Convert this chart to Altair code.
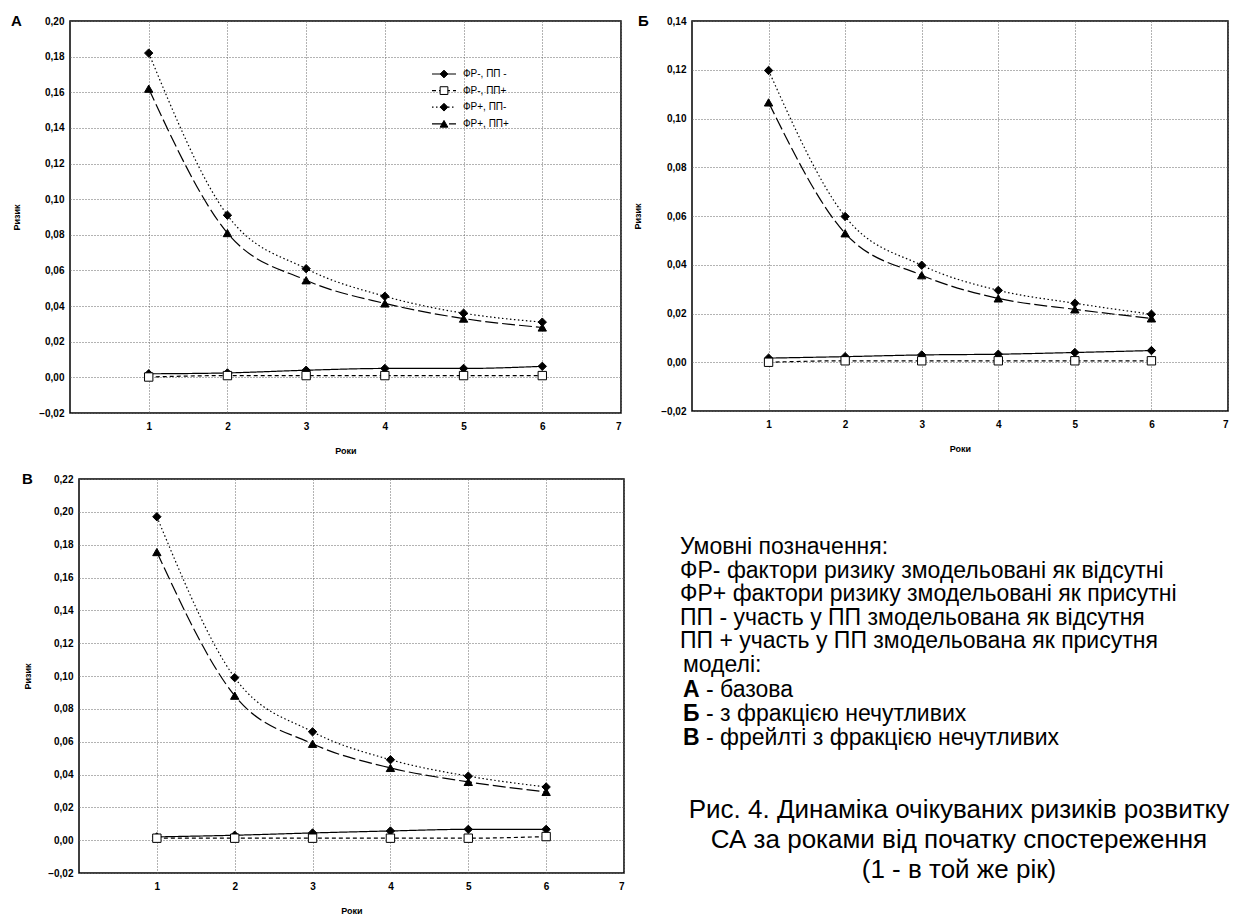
import altair as alt
import pandas as pd

years = [1, 2, 3, 4, 5, 6]
series_order = ["ФР-, ПП -", "ФР-, ПП+", "ФР+, ПП-", "ФР+, ПП+"]

# Panel A (base model)
a_frm_ppm = [0.002, 0.0025, 0.004, 0.005, 0.005, 0.0062]
a_frm_ppp = [0.0002, 0.001, 0.001, 0.001, 0.001, 0.001]
a_frp_ppm = [0.182, 0.091, 0.061, 0.0455, 0.036, 0.031]
a_frp_ppp = [0.162, 0.081, 0.0545, 0.0415, 0.033, 0.028]

# Panel Б (with non-susceptible fraction)
b_frm_ppm = [0.0017, 0.0023, 0.003, 0.0033, 0.004, 0.0048]
b_frm_ppp = [0.0, 0.0006, 0.0006, 0.0006, 0.0006, 0.0006]
b_frp_ppm = [0.1197, 0.0598, 0.0398, 0.0295, 0.0242, 0.0197]
b_frp_ppp = [0.1066, 0.0529, 0.0357, 0.0262, 0.0217, 0.018]

# Panel В (frailty with non-susceptible fraction)
v_frm_ppm = [0.002, 0.003, 0.0044, 0.0056, 0.0066, 0.0066]
v_frm_ppp = [0.0012, 0.0012, 0.0012, 0.0012, 0.0012, 0.0022]
v_frp_ppm = [0.197, 0.099, 0.066, 0.049, 0.039, 0.0324]
v_frp_ppp = [0.1755, 0.088, 0.0587, 0.044, 0.0355, 0.0294]

x_ticks = [1, 2, 3, 4, 5, 6, 7]

notes_lines = [
    "Умовні позначення:",
    "ФР- фактори ризику змодельовані як відсутні",
    "ФР+ фактори ризику змодельовані як присутні",
    "ПП - участь у ПП змодельована як відсутня",
    "ПП + участь у ПП змодельована як присутня",
    "моделі:",
]
model_letters = ["А", "Б", "В"]
model_texts = ["- базова", "- з фракцією нечутливих", "- фрейлті з фракцією нечутливих"]
caption_lines = [
    "Рис. 4. Динаміка очікуваних ризиків розвитку",
    "СА за роками від початку спостереження",
    "(1 - в той же рік)",
]

FONT = "Liberation Sans"
dashes = [[1, 0], [4, 3], [1.5, 2.5], [13, 4]]
shapes = ["diamond", "square", "diamond", "triangle-up"]
fills = ["black", "white", "black", "black"]


def make_df(s1, s2, s3, s4):
    rows = []
    for name, vals in zip(series_order, [s1, s2, s3, s4]):
        for yr, v in zip(years, vals):
            rows.append({"year": yr, "risk": v, "series": name})
    return pd.DataFrame(rows)


def text_layer(txt, x, y, size, weight="normal", align="left", color="black"):
    return alt.Chart(pd.DataFrame({"t": [txt]})).mark_text(
        font=FONT, fontSize=size, fontWeight=weight, align=align,
        baseline="middle", color=color
    ).encode(text="t:N", x=alt.value(x), y=alt.value(y))


def legend_layers():
    out = []
    for i, name in enumerate(series_order):
        yy = 53 + i * 16.6
        out.append(
            alt.Chart(pd.DataFrame({"t": [name]})).mark_rule(
                color="black", strokeWidth=1.2, strokeDash=dashes[i]
            ).encode(x=alt.value(362), x2=alt.value(386), y=alt.value(yy))
        )
        out.append(
            alt.Chart(pd.DataFrame({"t": [name]})).mark_point(
                shape=shapes[i], fill=fills[i], stroke="black", strokeWidth=1,
                opacity=1, size=60
            ).encode(x=alt.value(374), y=alt.value(yy))
        )
        out.append(text_layer(name, 393, yy, 10))
    return out


def panel(letter, data, ymax, w, h, title_x, letter_x, extra=None):
    nticks = int(round((ymax + 0.02) / 0.02)) + 1
    y_ticks = [round(-0.02 + 0.02 * k, 2) for k in range(nticks)]
    x = alt.X("year:Q", scale=alt.Scale(domain=[0, 7], nice=False),
              axis=alt.Axis(values=x_ticks, title="Роки", format="d",
                            labelPadding=8, titlePadding=15))
    y = alt.Y("risk:Q", scale=alt.Scale(domain=[-0.02, ymax], nice=False, zero=False),
              axis=alt.Axis(values=y_ticks, title="Ризик",
                            labelExpr="replace(format(datum.value, '.2f'), '.', ',')",
                            titleX=title_x, titleY=h / 2, titleAngle=270,
                            titleBaseline="middle", titleAlign="center"))
    base = alt.Chart(data).encode(x=x, y=y)
    lines = base.mark_line(color="black", strokeWidth=1.2, interpolate="monotone").encode(
        strokeDash=alt.StrokeDash("series:N", scale=alt.Scale(domain=series_order, range=dashes),
                                  legend=None),
        detail="series:N",
    )
    pts = base.mark_point(stroke="black", strokeWidth=1, opacity=1, size=70, filled=False).encode(
        shape=alt.Shape("series:N", legend=None,
                        scale=alt.Scale(domain=series_order, range=shapes)),
        fill=alt.Fill("series:N", legend=None,
                      scale=alt.Scale(domain=series_order, range=fills)),
    )
    layers = [lines, pts, text_layer(letter, letter_x, 0, 15, "bold")]
    if extra:
        layers += extra
    return alt.layer(*layers).properties(width=w, height=h)


# Notes text block placed to the right of panel В
notes = []
ny = 68
NS = 23
for i, line in enumerate(notes_lines):
    xx = 601 if i < 5 else 604
    notes.append(text_layer(line, xx, ny + i * 23.5, NS))
for j, (lt, tx) in enumerate(zip(model_letters, model_texts)):
    yy = ny + (6 + j) * 23.9
    notes.append(text_layer(lt, 604, yy, NS, "bold"))
    notes.append(text_layer(tx, 627, yy, NS))
for k, cl in enumerate(caption_lines):
    notes.append(text_layer(cl, 880, 331 + k * 30, 26, align="center"))

pA = panel("А", make_df(a_frm_ppm, a_frm_ppp, a_frp_ppm, a_frp_ppp), 0.20, 551, 392,
           title_x=-54, letter_x=-59, extra=legend_layers())
pB = panel("Б", make_df(b_frm_ppm, b_frm_ppp, b_frp_ppm, b_frp_ppp), 0.14, 536, 390,
           title_x=-55, letter_x=-54)
pV = panel("В", make_df(v_frm_ppm, v_frm_ppp, v_frp_ppm, v_frp_ppp), 0.22, 545, 394,
           title_x=-52, letter_x=-57, extra=notes)

spacer = alt.Chart(pd.DataFrame({"t": [""]})).mark_text().encode(text="t:N").properties(
    width=1, height=10, view=alt.ViewBackground(stroke="transparent")
)

chart = alt.vconcat(
    alt.hconcat(pA, pB, spacing=10),
    alt.hconcat(spacer, pV, spacing=-51),
    spacing=15,
).resolve_scale(shape="independent", fill="independent", strokeDash="independent").properties(
    padding={"left": 10, "top": 13, "right": 0, "bottom": 0},
    background="white",
).configure_view(
    stroke="black", strokeWidth=1.5
).configure_axis(
    labelFont=FONT, labelFontSize=10, labelColor="black", labelFontWeight="bold",
    titleFont=FONT, titleFontSize=9, titleColor="black", titleFontWeight="bold",
    grid=True, gridColor="#666666", gridDash=[1, 2], gridOpacity=1, gridWidth=1,
    ticks=False, domain=False, labelPadding=6,
)

chart.save("out.html", embed_options={"renderer": "svg", "actions": False})
